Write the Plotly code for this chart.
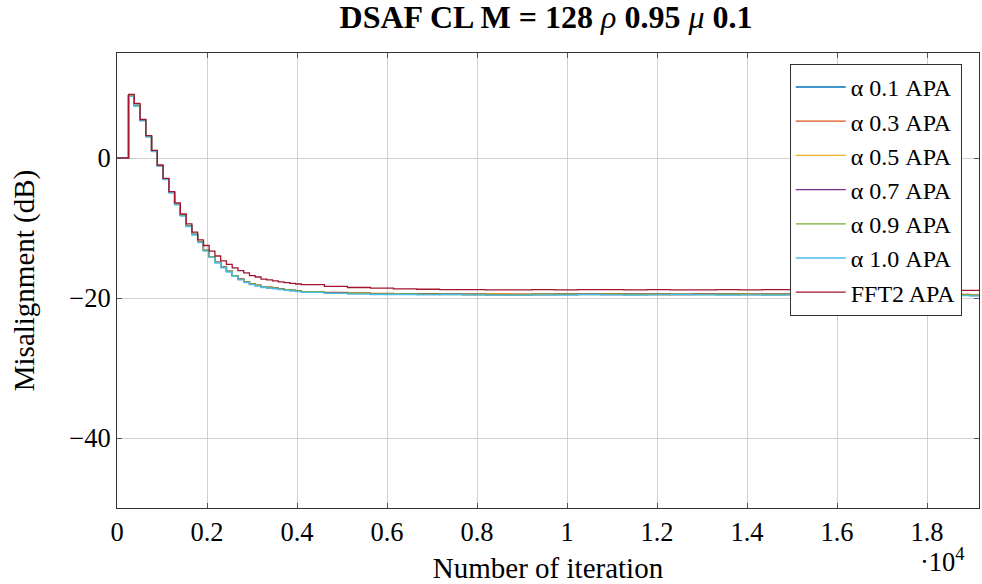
import plotly.graph_objects as go

# iteration index at which each block value starts (block length 128 during transient)
iters = [0, 256, 384, 512, 640, 768, 896, 1024, 1152, 1280, 1408, 1536, 1664, 1792,
         1920, 2048, 2176, 2304, 2432, 2560, 2688, 2816, 2944, 3072, 3200, 3328, 3456,
         3584, 3712, 3840, 3968, 4096,
         4608, 5120, 5632, 6144, 6656, 7168, 7680, 8192, 8704, 9216, 9728, 10240,
         10752, 11264, 11776, 12288, 12800, 13312, 13824, 14336, 14848, 15360, 15872,
         16384, 16896, 17408, 17920, 18432, 18944, 19200]

transient_alpha = [0, 8.9, 7.5, 5.4, 3.1, 1.0, -1.1, -3.0, -4.9, -6.6, -8.2, -9.7, -10.9, -12.0,
                   -13.2, -14.1, -14.9, -15.6, -16.2, -16.8, -17.3, -17.7, -18.0, -18.2, -18.4,
                   -18.5, -18.6, -18.7, -18.8, -18.9, -19.0, -19.1]

a01 = transient_alpha + [-19.25, -19.35, -19.4, -19.4, -19.45, -19.4, -19.45, -19.5, -19.5, -19.45,
                         -19.5, -19.4, -19.45, -19.5, -19.45, -19.4, -19.45, -19.5, -19.45, -19.5,
                         -19.45, -19.4, -19.45, -19.5, -19.45, -19.45, -19.5, -19.55, -19.6, -19.6]
a03 = transient_alpha + [-19.2, -19.3, -19.35, -19.4, -19.4, -19.45, -19.45, -19.4, -19.45, -19.5,
                         -19.45, -19.45, -19.4, -19.45, -19.5, -19.45, -19.4, -19.45, -19.45, -19.5,
                         -19.45, -19.45, -19.4, -19.45, -19.5, -19.5, -19.45, -19.5, -19.55, -19.55]
a05 = transient_alpha + [-19.25, -19.3, -19.4, -19.4, -19.4, -19.45, -19.5, -19.45, -19.5, -19.45,
                         -19.45, -19.4, -19.45, -19.45, -19.5, -19.4, -19.45, -19.5, -19.45, -19.45,
                         -19.5, -19.45, -19.45, -19.45, -19.5, -19.45, -19.5, -19.5, -19.6, -19.6]
a07 = transient_alpha + [-19.25, -19.35, -19.4, -19.45, -19.4, -19.45, -19.5, -19.55, -19.6, -19.5,
                         -19.45, -19.45, -19.5, -19.45, -19.45, -19.5, -19.45, -19.45, -19.5, -19.45,
                         -19.5, -19.45, -19.45, -19.5, -19.45, -19.5, -19.55, -19.6, -19.65, -19.65]
a09 = transient_alpha + [-19.3, -19.35, -19.4, -19.4, -19.45, -19.5, -19.5, -19.55, -19.6, -19.5,
                         -19.45, -19.5, -19.45, -19.5, -19.45, -19.5, -19.5, -19.45, -19.5, -19.5,
                         -19.45, -19.5, -19.45, -19.5, -19.5, -19.45, -19.5, -19.55, -19.6, -19.6]
a10 = [0, 8.8, 7.4, 5.3, 3.0, 0.9, -1.2, -3.1, -5.0, -6.7, -8.3, -9.8, -11.0, -12.1,
       -13.3, -14.2, -15.0, -15.7, -16.3, -16.9, -17.4, -17.8, -18.1, -18.3, -18.5,
       -18.6, -18.7, -18.8, -18.9, -19.0, -19.1, -19.2] + \
      [-19.35, -19.45, -19.5, -19.5, -19.55, -19.5, -19.55, -19.6, -19.6, -19.55,
       -19.6, -19.5, -19.55, -19.6, -19.55, -19.5, -19.55, -19.6, -19.55, -19.6,
       -19.55, -19.5, -19.55, -19.6, -19.55, -19.55, -19.6, -19.65, -19.7, -19.7]
fft2 = [0, 9.1, 7.8, 5.5, 3.2, 1.1, -1.0, -2.9, -4.8, -6.4, -8.0, -9.4, -10.6, -11.7,
        -12.5, -13.3, -14.0, -14.7, -15.2, -15.7, -16.1, -16.4, -16.8, -17.0, -17.3,
        -17.4, -17.55, -17.7, -17.8, -17.9, -18.0, -18.1] + \
       [-18.35, -18.5, -18.6, -18.7, -18.75, -18.8, -18.8, -18.85, -18.85, -18.8,
        -18.85, -18.8, -18.8, -18.85, -18.8, -18.85, -18.85, -18.8, -18.85, -18.8,
        -18.8, -18.85, -18.8, -18.85, -18.8, -18.85, -18.9, -18.9, -18.9, -18.9]

series_names = ["α 0.1 APA", "α 0.3 APA", "α 0.5 APA", "α 0.7 APA", "α 0.9 APA", "α 1.0 APA", "FFT2 APA"]
series_vals = [a01, a03, a05, a07, a09, a10, fft2]
colors = ["#0072BD", "#D95319", "#EDB120", "#7E2F8E", "#77AC30", "#4DBEEE", "#A2142F"]

x_tickvals = [0, 2000, 4000, 6000, 8000, 10000, 12000, 14000, 16000, 18000]
x_ticktext = ["0", "0.2", "0.4", "0.6", "0.8", "1", "1.2", "1.4", "1.6", "1.8"]
y_tickvals = [-40, -20, 0]
y_ticktext = ["−40", "−20", "0"]

FONT = "Liberation Serif"
FS = 26.5

fig = go.Figure()
for name, vals, col in zip(series_names, series_vals, colors):
    assert len(vals) == len(iters)
    fig.add_trace(go.Scatter(x=iters, y=vals, mode="lines", name=name,
                             line=dict(color=col, width=1.3, shape="hv")))

axis_common = dict(showline=True, linecolor="#333333", linewidth=1, mirror="allticks",
                   ticks="inside", ticklen=5, tickcolor="#555555",
                   showgrid=True, gridcolor="#d0d0d0", gridwidth=1, zeroline=False,
                   tickfont=dict(family=FONT, size=FS, color="black"))

fig.update_xaxes(range=[0, 19155], tickvals=x_tickvals, ticktext=x_ticktext,
                 title=dict(text="Number of iteration", font=dict(family=FONT, size=29, color="black"),
                            standoff=15),
                 **axis_common)
fig.update_yaxes(range=[-50, 15], tickvals=y_tickvals, ticktext=y_ticktext,
                 title=dict(text="Misalignment (dB)", font=dict(family=FONT, size=29, color="black"),
                            standoff=26),
                 **axis_common)

fig.update_layout(
    width=982, height=584,
    margin=dict(l=117, r=3, t=53, b=76),
    paper_bgcolor="white", plot_bgcolor="white",
    title=dict(text="<b>DSAF CL M = 128 </b><i>ρ</i><b> 0.95 </b><i>μ</i><b> 0.1</b>",
               x=0.556, xanchor="center", y=0.972, yanchor="middle",
               font=dict(family=FONT, size=32, color="black")),
    legend=dict(x=0.980, xanchor="right", y=0.976, yanchor="top",
                bgcolor="white", bordercolor="#333333", borderwidth=1,
                font=dict(family=FONT, size=24, color="black"),
                tracegroupgap=0, itemwidth=50),
    showlegend=True,
    annotations=[dict(text="·10<sup>4</sup>", x=(967 - 117) / 862, xref="paper", xanchor="right",
                      y=-(560 - 508) / 455, yref="paper", yanchor="middle", showarrow=False,
                      font=dict(family=FONT, size=FS, color="black"))],
)

fig.write_html("out.html")
